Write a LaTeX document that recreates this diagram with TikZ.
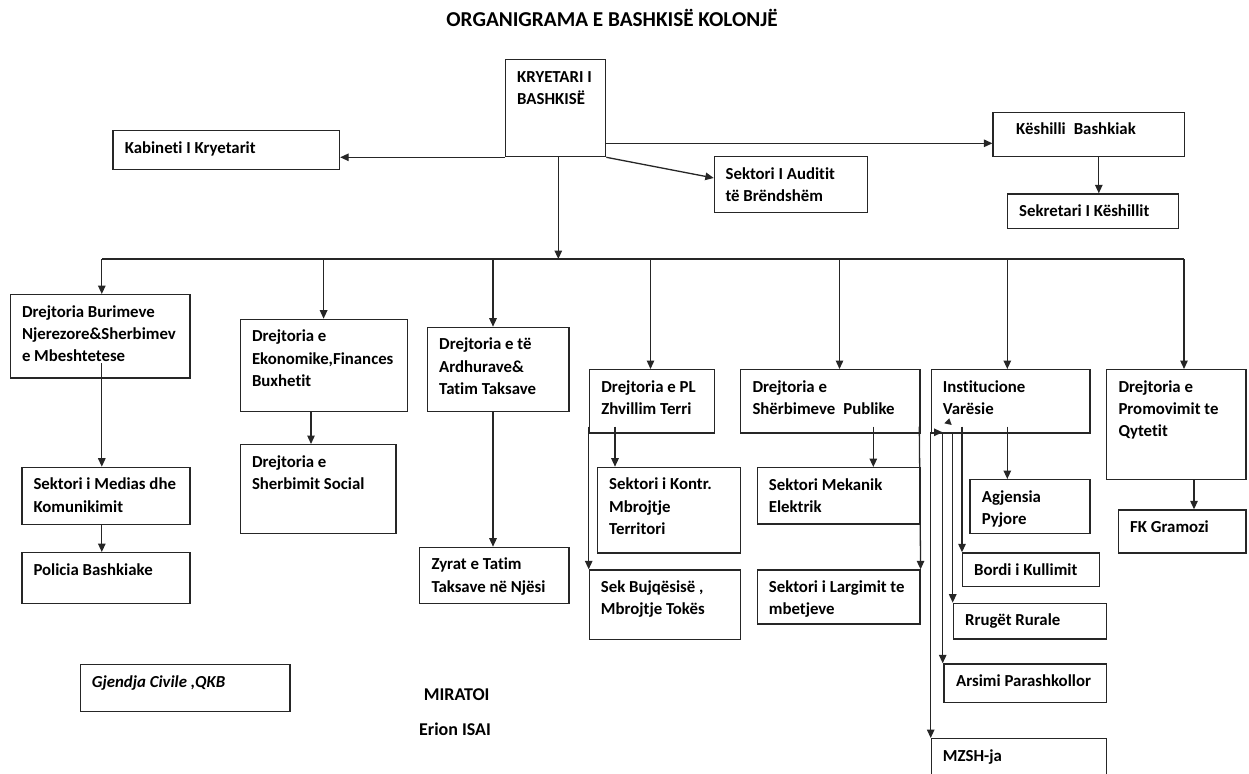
\documentclass[tikz,border=0pt]{standalone}
\usepackage{fontspec}
\setmainfont{Carlito}[Ligatures={NoCommon,NoRare,NoContextual}]
\usetikzlibrary{arrows.meta,calc}
\newcommand\obox[7]{%
  \node[box, minimum width={(#4-#2)*1pt}, minimum height={(#5-#3)*1pt}] (#1) at (#2,#3) {};
  \node[txt] (#1t) at (#2+#6,#3) {\rule{0pt}{22.9pt}#7};}
\begin{document}
\begin{tikzpicture}[x=1pt,y=-1pt,
  box/.style={draw=black!85, line width=1.3pt, anchor=north west, inner sep=0pt},
  txt/.style={anchor=north west, inner sep=0pt, align=left, font=\bfseries\fontsize{16.8}{22.3}\selectfont},
  arr/.style={draw=black!85, line width=1.3pt, -{Triangle[length=8.5pt,width=7.5pt]}},
  ln/.style={draw=black!85, line width=1.3pt}]
\useasboundingbox (0,0) rectangle (1249,773);

\node[font=\bfseries\fontsize{21.2}{25}\selectfont, anchor=base] (title) at (612,26.8) {ORGANIGRAMA E BASHKISË KOLONJË};

\obox{kry}{505}{59}{605}{156}{12}{KRYETARI I\\BASHKISË}
\obox{kab}{112.3}{130}{338.9}{169}{12.3}{Kabineti I Kryetarit}
\obox{kes}{992.4}{111.7}{1184}{156}{23.6}{Këshilli\hspace{8pt}Bashkiak}
\obox{aud}{713.8}{156}{867}{211.7}{11.6}{Sektori I Auditit\\të Brëndshëm}
\obox{sek}{1007}{193.3}{1178}{227.7}{12}{Sekretari I Këshillit}
\obox{b1}{9.6}{294}{189.4}{377.3}{12.2}{Drejtoria Burimeve\\Njerezore\&Sherbimev\\e Mbeshtetese}
\obox{b2}{240}{318.7}{406.8}{410.7}{11.8}{Drejtoria e\\Ekonomike,Finances\\Buxhetit}
\obox{b3}{426.7}{326.7}{568.3}{410.7}{12.3}{Drejtoria e të\\Ardhurave\&\\Tatim Taksave}
\obox{b4}{588.7}{369}{714}{432.3}{12.5}{Drejtoria e PL\\Zhvillim Terri}
\obox{b5}{740}{369}{919.3}{432.3}{12.3}{Drejtoria e\\Shërbimeve\hspace{8pt}Publike}
\obox{b6}{930.7}{369}{1089.3}{432.3}{12}{Institucione\\Varësie}
\obox{b7}{1106}{369}{1245.3}{479}{12.3}{Drejtoria e\\Promovimit te\\Qytetit}
\obox{med}{21.4}{466.7}{189.4}{523.7}{11.9}{Sektori i Medias dhe\\Komunikimit}
\obox{pol}{21.4}{552}{189.4}{602.7}{11.9}{Policia Bashkiake}
\obox{soc}{240}{444}{395.3}{532.7}{11.8}{Drejtoria e\\Sherbimit Social}
\obox{zyr}{419}{546.7}{568.3}{602.7}{12.3}{Zyrat e Tatim\\Taksave në Njësi}
\obox{kon}{596.7}{466.7}{739.7}{552.3}{12.3}{Sektori i Kontr.\\Mbrojtje\\Territori}
\obox{buj}{588.7}{569.3}{740}{639}{12}{Sek Bujqësisë ,\\Mbrojtje Tokës}
\obox{mek}{756.7}{467}{919.3}{523.3}{12}{Sektori Mekanik\\Elektrik}
\obox{lar}{756.7}{569.3}{919.3}{623.3}{12}{Sektori i Largimit te\\mbetjeve}
\obox{agj}{969.3}{479}{1089.3}{532.7}{12.4}{Agjensia\\Pyjore}
\obox{bor}{962}{552.3}{1098.7}{586}{12}{Bordi i Kullimit}
\obox{rru}{952.7}{602.7}{1106}{638.3}{12.3}{Rrugët Rurale}
\obox{ars}{943.3}{663.3}{1106}{701.7}{12.7}{Arsimi Parashkollor}
\obox{mzs}{930.7}{738}{1106}{778}{12}{MZSH-ja}
\obox{fk}{1118}{509.3}{1245.3}{552.3}{12}{FK Gramozi}
\obox{gje}{80}{664}{289.3}{710.7}{11.7}{\itshape Gjendja Civile ,QKB}

\node[font=\bfseries\fontsize{18}{22}\selectfont, anchor=base] (mir) at (456.7,700) {MIRATOI};
\node[font=\bfseries\fontsize{18}{22}\selectfont, anchor=base] (eri) at (455,735.8) {Erion ISAI};

% top connectors
\draw[arr] (kry.south west) -- (kry.south west -| kab.east);
\draw[arr] (kry.east |- 0,143.3) -- (kes.west |- 0,143.3);
\draw[arr] (kry.south east) -- (aud.west |- 0,178);
\coordinate (kx) at (1098.8,0);
\draw[arr] (kes.south -| kx) -- (sek.north -| kx);

% bus
\coordinate (busc) at (558.3,259);
\coordinate (d1) at (101.8,259);
\coordinate (d2) at (323.6,259);
\coordinate (d3) at (493,259);
\coordinate (d4) at (650.5,259);
\coordinate (d5) at (839.5,259);
\coordinate (d6) at (1007.3,259);
\coordinate (d7) at (1184,259);
\draw[ln] (d1) -- (d7);
\draw[arr] (kry.south -| busc) -- (busc);
\foreach \i/\b in {1/b1,2/b2,3/b3,4/b4,5/b5,6/b6,7/b7}
  \draw[arr] (d\i) -- (d\i |- \b.north);

% sub connectors
\draw[arr] (d1 |- 0,363.3) -- (d1 |- med.north);
\draw[arr] (d1 |- med.south) -- (d1 |- pol.north);
\draw[arr] (b2.south -| 311,0) -- (soc.north -| 311,0);
\draw[arr] (b3.south -| 493,0) -- (zyr.north -| 493,0);
\draw[arr] (615,426.7) -- (kon.north -| 615,0);
\draw[arr] (588.7,426.7) -- (buj.north west);
\draw[arr] (873.3,426.7) -- (mek.north -| 873.3,0);
\draw[arr] (919.3,426.7) -- (lar.north east);
\draw[arr] (1007.3,426.7) -- (agj.north -| 1007.3,0);
\draw[arr] (962,426.7) -- (bor.north west);
\draw[arr] (952.7,432.3) -- (rru.north west);
\draw[arr] (942.7,432.3) -- (ars.north -| 942.7,0);
\draw[arr] (930.7,432.3) -- (mzs.north west);
\draw[arr] (930.7,432.3) -- (942.5,432.3);
\fill[black!85] (944.3,423.3) -- (949.3,418.3) -- (951.7,425) -- cycle;
\draw[arr] (b7.south -| 1194,0) -- (fk.north -| 1194,0);
\end{tikzpicture}
\end{document}
